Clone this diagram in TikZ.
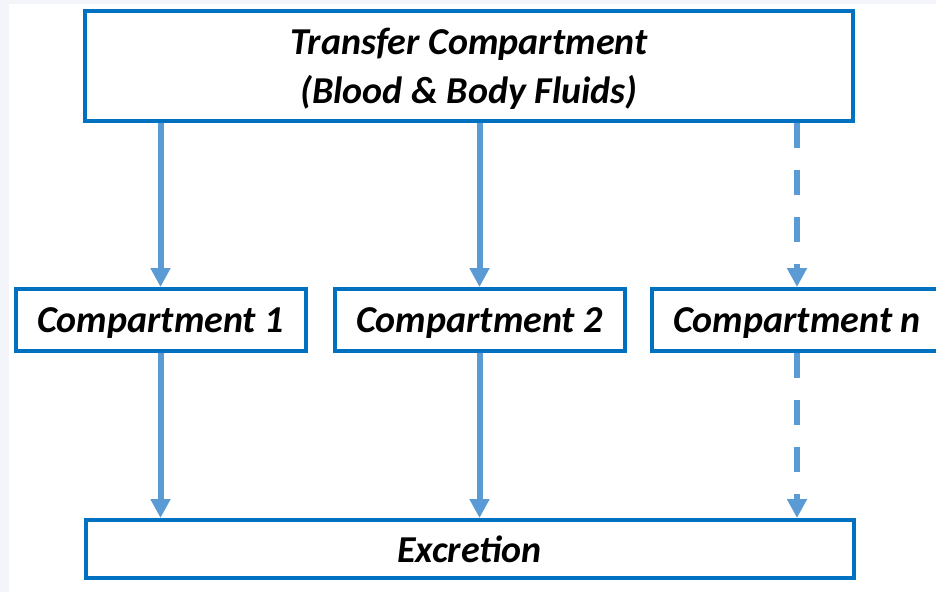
\documentclass[tikz,border=0pt]{standalone}
\usepackage{fontspec}
\setmainfont{Carlito}
\usetikzlibrary{arrows.meta}
\definecolor{boxblue}{RGB}{0,112,192}
\definecolor{arrblue}{RGB}{91,155,213}
\definecolor{bgstrip}{RGB}{243,245,250}
\tikzset{
  box/.style={draw=boxblue, line width=4pt, fill=white, inner sep=0pt, text depth=0pt,
    font=\fontsize{38}{49}\selectfont\bfseries\itshape, align=center},
  arr/.style={draw=arrblue, line width=6pt, -{Triangle[width=19pt,length=19pt]}},
  darr/.style={arr, dash pattern=on 25pt off 22pt},
}
\begin{document}
\begin{tikzpicture}[x=1pt,y=-1pt]
\clip (0,0) rectangle (936,592);
\useasboundingbox (0,0) rectangle (936,592);
\fill[white] (0,0) rectangle (936,592);
\fill[bgstrip] (0,0) rectangle (936,4);
\fill[bgstrip] (0,0) rectangle (9,592);
\node[box, minimum width=768pt, minimum height=110pt] (top) at (469,66)
  {Transfer Compartment\\(Blood \& Body Fluids)};
\node[box, minimum width=290pt, minimum height=62pt] (c1) at (160.5,320) {Compartment 1};
\node[box, minimum width=290pt, minimum height=62pt] (c2) at (479.5,320) {Compartment 2};
\node[box, minimum width=290pt, minimum height=62pt] (cn) at (797,320) {Compartment \textit{n}};
\node[box, minimum width=768pt, minimum height=58pt] (ex) at (469.5,549) {Excretion};
\draw[arr] (top.south -| c1) -- (c1.north);
\draw[arr] (top.south -| c2) -- (c2.north);
\draw[darr] (top.south -| cn) -- (cn.north);
\draw[arr] (c1.south) -- (ex.north -| c1);
\draw[arr] (c2.south) -- (ex.north -| c2);
\draw[darr] (cn.south) -- (ex.north -| cn);
\end{tikzpicture}
\end{document}
